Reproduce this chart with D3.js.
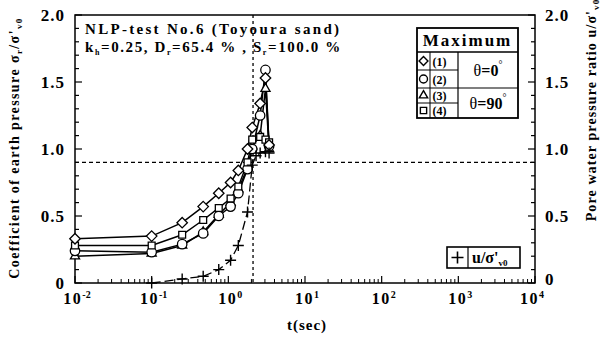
<!DOCTYPE html>
<html>
<head>
<meta charset="utf-8">
<script src="https://cdn.jsdelivr.net/npm/d3@7"></script>
<style>
  body { margin: 0; background: #fff; }
  text { font-family: "Liberation Serif", "DejaVu Serif", serif; font-weight: bold; fill: #000; }
</style>
</head>
<body>
<div id="chart"></div>
<script>
// chart size and plot box
let width = 602
let height = 338
let margin = { left: 75, right: 67, top: 15, bottom: 55 }

// data
let times = [0.01, 0.1, 0.25, 0.47, 0.75, 1.07, 1.35, 1.78, 2.05, 2.6, 3.05, 3.4]
let k1 = [0.33, 0.35, 0.45, 0.57, 0.67, 0.75, 0.84, 1.0, 1.16, 1.34, 1.53, 1.03]
let k2 = [0.24, 0.23, 0.29, 0.37, 0.50, 0.57, 0.67, 0.85, 1.0, 1.25, 1.59, 1.02]
let k3 = [0.20, 0.22, 0.28, 0.38, 0.51, 0.60, 0.70, 0.86, 1.02, 1.10, 1.45, 1.0]
let k4 = [0.28, 0.28, 0.36, 0.47, 0.56, 0.63, 0.72, 0.90, 1.07, 1.09, 1.07, 1.05]
let uTimes = [0.1, 0.25, 0.47, 0.75, 1.07, 1.35, 1.78, 2.05, 2.3, 2.6, 3.05, 3.4]
let uRatio = [0.0, 0.03, 0.05, 0.10, 0.17, 0.28, 0.53, 0.88, 0.95, 0.97, 0.98, 0.97]
let refLevel = 0.9
let refTime = 2.1
let xTickExps = [-2, -1, 0, 1, 2, 3, 4]
let yTicks = [0, 0.5, 1.0, 1.5, 2.0]

let svg = d3.select("#chart").append("svg")
    .attr("width", width)
    .attr("height", height)

let x = d3.scaleLog().domain([1e-2, 1e4]).range([margin.left, width - margin.right])
let y = d3.scaleLinear().domain([0, 2]).range([height - margin.bottom, margin.top])

let x0 = margin.left, x1 = width - margin.right
let y0 = height - margin.bottom, y1 = margin.top

// frame
svg.append("rect")
    .attr("x", x0).attr("y", y1)
    .attr("width", x1 - x0).attr("height", y0 - y1)
    .attr("fill", "none").attr("stroke", "#000").attr("stroke-width", 1.5)

// y ticks (inside), both sides
let yMinor = d3.range(0, 2.001, 0.1)
yMinor.forEach(v => {
    let major = Math.abs(v * 2 - Math.round(v * 2)) < 1e-6
    let len = major ? 7 : 4
    svg.append("line").attr("x1", x0).attr("x2", x0 + len).attr("y1", y(v)).attr("y2", y(v))
        .attr("stroke", "#000").attr("stroke-width", 1.2)
    svg.append("line").attr("x1", x1).attr("x2", x1 - len).attr("y1", y(v)).attr("y2", y(v))
        .attr("stroke", "#000").attr("stroke-width", 1.2)
})
yTicks.forEach(v => {
    let lab = v === 0 ? "0" : v.toFixed(1)
    svg.append("text").attr("x", x0 - 10).attr("y", y(v) + 6)
        .attr("text-anchor", "end").attr("font-size", 17).attr("letter-spacing", 1).text(lab)
    svg.append("text").attr("x", x1 + 10).attr("y", y(v) + (v === 0 ? 2 : 6))
        .attr("text-anchor", "start").attr("font-size", 17).attr("letter-spacing", 1).text(lab)
})

// x ticks (log, inside)
xTickExps.forEach((e, i) => {
    let base = Math.pow(10, e)
    svg.append("line").attr("x1", x(base)).attr("x2", x(base)).attr("y1", y0).attr("y2", y0 - 7)
        .attr("stroke", "#000").attr("stroke-width", 1.2)
    if (i < xTickExps.length - 1) {
        for (let m = 2; m < 10; m++) {
            svg.append("line").attr("x1", x(base * m)).attr("x2", x(base * m))
                .attr("y1", y0).attr("y2", y0 - 4)
                .attr("stroke", "#000").attr("stroke-width", 1)
        }
    }
    let t = svg.append("text").attr("x", x(base) + (i === xTickExps.length - 1 ? -3 : 2)).attr("y", y0 + 21)
        .attr("text-anchor", "middle").attr("font-size", 16)
    t.append("tspan").attr("letter-spacing", 1.5).text("10")
    t.append("tspan").attr("dy", -6).attr("font-size", 10).text(e < 0 ? "-" + (-e) : e)
})

// axis titles
svg.append("text").attr("x", 307).attr("y", 330).attr("text-anchor", "middle")
    .attr("font-size", 15).attr("letter-spacing", 1).text("t(sec)")

let lt = svg.append("text").attr("transform", "translate(19,148) rotate(-90)")
    .attr("text-anchor", "middle").attr("font-size", 14).attr("letter-spacing", 1.4)
lt.append("tspan").text("Coefficient of earth pressure σ")
lt.append("tspan").attr("dy", 3).attr("font-size", 9).text("r")
lt.append("tspan").attr("dy", -3).text("/σ'")
lt.append("tspan").attr("dy", 3).attr("font-size", 9).text("v0")

let rt = svg.append("text").attr("transform", "translate(596,110) rotate(-90)")
    .attr("text-anchor", "middle").attr("font-size", 14).attr("letter-spacing", 1.1)
rt.append("tspan").text("Pore water pressure ratio u/σ'")
rt.append("tspan").attr("dy", 3).attr("font-size", 9).text("v0")

// reference dashed lines
svg.append("line").attr("x1", x0).attr("x2", x1).attr("y1", y(refLevel)).attr("y2", y(refLevel))
    .attr("stroke", "#000").attr("stroke-width", 1.3).attr("stroke-dasharray", "4,3")
svg.append("line").attr("x1", x(refTime)).attr("x2", x(refTime)).attr("y1", y1).attr("y2", y0)
    .attr("stroke", "#000").attr("stroke-width", 1.3).attr("stroke-dasharray", "3,3")

// header text
let h1 = svg.append("text").attr("x", 85).attr("y", 34).attr("font-size", 15).attr("letter-spacing", 2.3)
h1.text("NLP-test  No.6  (Toyoura sand)")
let h2 = svg.append("text").attr("x", 85).attr("y", 52).attr("font-size", 15).attr("letter-spacing", 1.6)
h2.append("tspan").text("k")
h2.append("tspan").attr("dy", 3).attr("font-size", 8).text("h")
h2.append("tspan").attr("dy", -3).text("=0.25, D")
h2.append("tspan").attr("dy", 3).attr("font-size", 8).text("r")
h2.append("tspan").attr("dy", -3).text("=65.4 % , S")
h2.append("tspan").attr("dy", 3).attr("font-size", 8).text("r")
h2.append("tspan").attr("dy", -3).text("=100.0 %")

// marker shapes
let sym = {
    diamond: d3.symbol().type(d3.symbolDiamond2 || d3.symbolDiamond).size(70),
    circle: d3.symbol().type(d3.symbolCircle).size(70),
    triangle: d3.symbol().type(d3.symbolTriangle2 || d3.symbolTriangle).size(60),
    square: d3.symbol().type(d3.symbolSquare2 || d3.symbolSquare).size(60)
}
const plusPath = (r) => "M" + (-r) + ",0H" + r + "M0," + (-r) + "V" + r

let line = d3.line().x(d => x(d[0])).y(d => y(d[1]))

// pore pressure (dashed)
let uData = uTimes.map((t, i) => [t, uRatio[i]])
svg.append("path").attr("d", line(uData)).attr("fill", "none").attr("stroke", "#000")
    .attr("stroke-width", 1.3).attr("stroke-dasharray", "9,4")

let series = [
    { vals: k3, shape: "triangle" },
    { vals: k2, shape: "circle" },
    { vals: k4, shape: "square" },
    { vals: k1, shape: "diamond" }
]
series.forEach(s => {
    let data = times.map((t, i) => [t, s.vals[i]])
    svg.append("path").attr("d", line(data)).attr("fill", "none").attr("stroke", "#000").attr("stroke-width", 1.5)
})
series.forEach(s => {
    let data = times.map((t, i) => [t, s.vals[i]])
    svg.selectAll(null).data(data).enter().append("path")
        .attr("d", sym[s.shape])
        .attr("transform", d => "translate(" + x(d[0]) + "," + y(d[1]) + ")")
        .attr("fill", "#fff").attr("stroke", "#000").attr("stroke-width", 1.3)
})
svg.selectAll(null).data(uData).enter().append("path")
    .attr("d", plusPath(5.5))
    .attr("transform", d => "translate(" + x(d[0]) + "," + y(d[1]) + ")")
    .attr("fill", "none").attr("stroke", "#000").attr("stroke-width", 1.4)

// legend table
let lg = svg.append("g")
let L = 417, R = 518, T = 28, H = 52
let rows = [52, 70, 88, 103, 118]
let cA = 430, cB = 458
lg.append("rect").attr("x", L).attr("y", T).attr("width", R - L).attr("height", 118 - T)
    .attr("fill", "#fff").attr("stroke", "#000").attr("stroke-width", 1.8)
lg.append("line").attr("x1", L).attr("x2", R).attr("y1", H).attr("y2", H).attr("stroke", "#000").attr("stroke-width", 1.5)
lg.append("line").attr("x1", L).attr("x2", R).attr("y1", rows[2]).attr("y2", rows[2]).attr("stroke", "#000").attr("stroke-width", 1.2)
lg.append("line").attr("x1", L).attr("x2", cB).attr("y1", rows[1]).attr("y2", rows[1]).attr("stroke", "#000").attr("stroke-width", 1)
lg.append("line").attr("x1", L).attr("x2", cB).attr("y1", rows[3]).attr("y2", rows[3]).attr("stroke", "#000").attr("stroke-width", 1)
lg.append("line").attr("x1", cA).attr("x2", cA).attr("y1", H).attr("y2", 118).attr("stroke", "#000").attr("stroke-width", 1)
lg.append("line").attr("x1", cB).attr("x2", cB).attr("y1", H).attr("y2", 118).attr("stroke", "#000").attr("stroke-width", 1.2)
lg.append("text").attr("x", (L + R) / 2).attr("y", 46).attr("text-anchor", "middle")
    .attr("font-size", 17).attr("letter-spacing", 2).text("Maximum")
let legShapes = ["diamond", "circle", "triangle", "square"]
legShapes.forEach((s, i) => {
    let cy = (rows[i] + rows[i + 1]) / 2
    lg.append("path").attr("d", sym[s].size(50)())
        .attr("transform", "translate(" + (L + 6.5) + "," + cy + ")")
        .attr("fill", "#fff").attr("stroke", "#000").attr("stroke-width", 1.4)
    lg.append("text").attr("x", cA + 2.5).attr("y", cy + 4.5).attr("font-size", 12).text("(" + (i + 1) + ")")
})
let th1 = lg.append("text").attr("x", (cB + R) / 2).attr("y", 76).attr("text-anchor", "middle").attr("font-size", 16)
th1.append("tspan").attr("font-weight", "normal").text("θ")
th1.append("tspan").text("=0")
th1.append("tspan").attr("dy", -8).attr("font-size", 10).attr("font-weight", "normal").text("°")
let th2 = lg.append("text").attr("x", (cB + R) / 2).attr("y", 109).attr("text-anchor", "middle").attr("font-size", 16)
th2.append("tspan").attr("font-weight", "normal").text("θ")
th2.append("tspan").text("=90")
th2.append("tspan").attr("dy", -8).attr("font-size", 10).attr("font-weight", "normal").text("°")

// cross legend
let cl = svg.append("g")
cl.append("rect").attr("x", 447).attr("y", 247).attr("width", 73).attr("height", 21)
    .attr("fill", "#fff").attr("stroke", "#000").attr("stroke-width", 1.6)
cl.append("line").attr("x1", 468).attr("x2", 468).attr("y1", 247).attr("y2", 268).attr("stroke", "#000").attr("stroke-width", 1.2)
cl.append("path").attr("d", plusPath(6))
    .attr("transform", "translate(457.5,257.5)").attr("fill", "none").attr("stroke", "#000").attr("stroke-width", 1.6)
let ct = cl.append("text").attr("x", 472).attr("y", 263).attr("font-size", 16)
ct.append("tspan").text("u/σ'")
ct.append("tspan").attr("dy", 3).attr("font-size", 9).text("v0")
</script>
</body>
</html>
